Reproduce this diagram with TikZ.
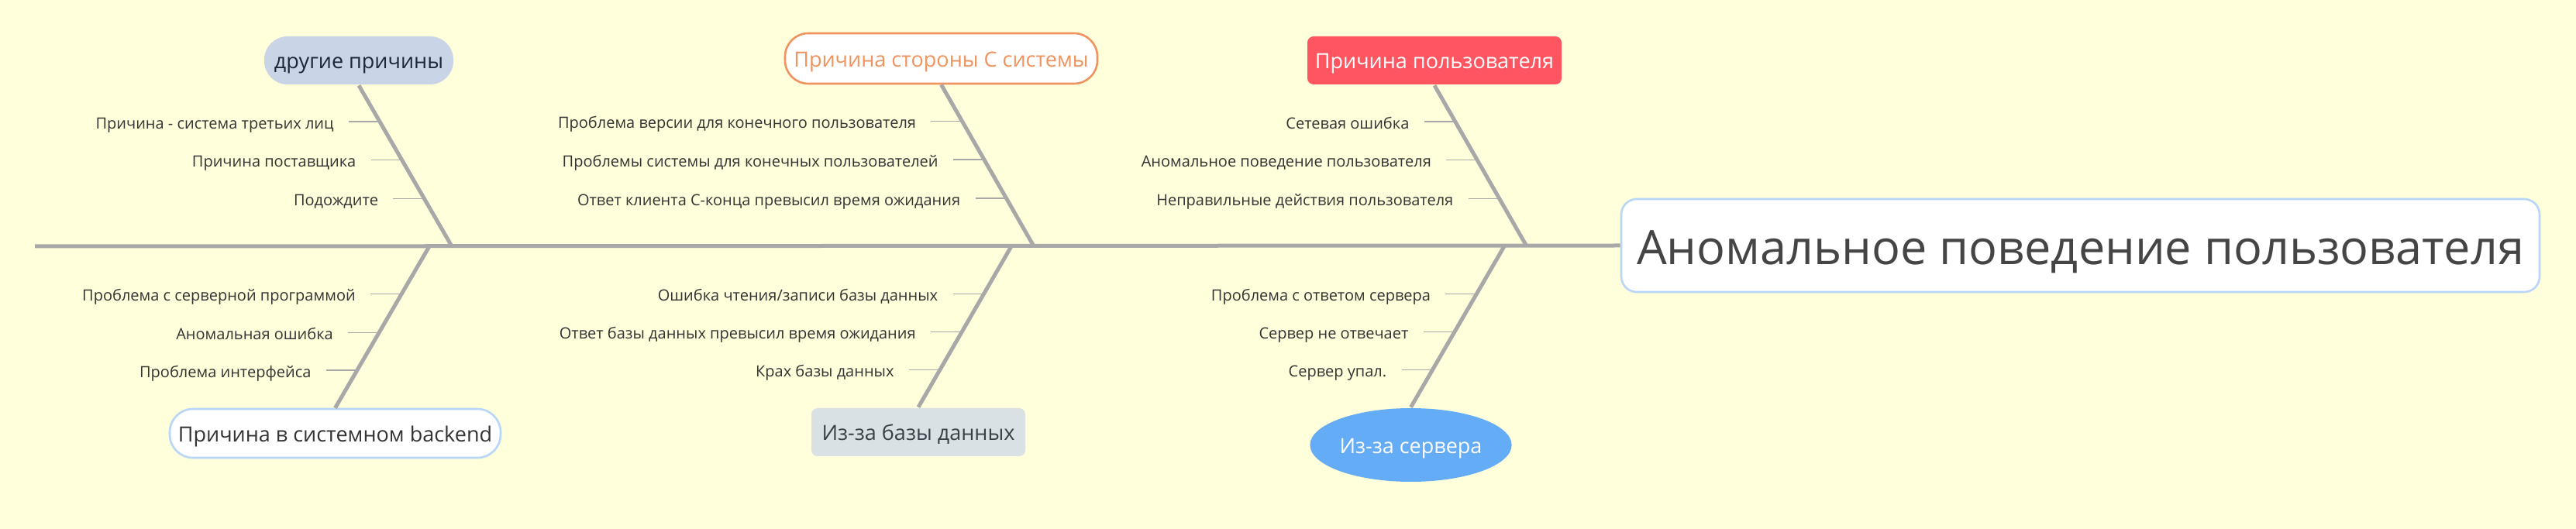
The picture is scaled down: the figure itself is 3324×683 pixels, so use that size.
\documentclass[tikz,border=0pt]{standalone}
\usepackage{fontspec}
\setmainfont{Open Sans}
\usetikzlibrary{positioning,calc,shapes.geometric}

\definecolor{bgyellow}{HTML}{FFFFDC}
\definecolor{bonegray}{HTML}{A8A8A8}
\definecolor{labelgray}{HTML}{333333}
\definecolor{maintext}{HTML}{454545}
\definecolor{edgeblue}{HTML}{B8D6F8}
\definecolor{othrfill}{HTML}{C9D4E7}
\definecolor{othrtext}{HTML}{1E2638}
\definecolor{sysorange}{HTML}{F0935E}
\definecolor{usrred}{HTML}{FF5560}
\definecolor{dbfill}{HTML}{D9E1E4}
\definecolor{dbtext}{HTML}{3A4048}
\definecolor{srvblue}{HTML}{64ACF6}

\tikzset{
  bone/.style={bonegray, line width=2.5pt},
  tick/.style={bonegray, line width=0.7pt, shorten <=9.5pt},
  lbl/.style={inner sep=0pt, text height=10pt, text depth=1pt, text=labelgray, font=\fontsize{10}{12}\selectfont},
  cause/.style={inner sep=0pt, text height=13.5pt, text depth=2.7pt, line width=1.3pt, font=\fontsize{13.5}{16}\selectfont},
}

\begin{document}
\begin{tikzpicture}[x=0.5pt,y=-0.5pt]
\useasboundingbox (0,0) rectangle (3324,683);
\fill[bgyellow] (0,0) rectangle (3324,683); %background

%the head and the spine
\node[draw=edgeblue, fill=white, rounded corners=10pt, line width=1.3pt, inner sep=0pt, text height=30.6pt, text depth=6.1pt, minimum width=592.5pt, minimum height=60pt, text=maintext, font=\fontsize{30.6}{36}\selectfont] (effect) at (2684.5,317) {Аномальное поведение пользователя};
\coordinate (tail) at (45,318);
\draw[bone] (tail) -- (effect.west); %spine

%the six causes
\node[cause, fill=othrfill, text=othrtext, rounded corners=15pt, minimum width=122pt, minimum height=31pt] (othr) at (463,78) {другие причины};
\node[cause, draw=sysorange, fill=white, text=sysorange, rounded corners=15pt, minimum width=201.5pt, minimum height=32.5pt] (sysc) at (1214.5,75.5) {Причина стороны С системы};
\node[cause, fill=usrred, text=white, rounded corners=4pt, minimum width=164pt, minimum height=31pt] (usr) at (1851,78) {Причина пользователя};
\node[cause, draw=edgeblue, fill=white, text=labelgray, rounded corners=15pt, minimum width=213.5pt, minimum height=31.5pt] (bknd) at (432.5,559.5) {Причина в системном backend};
\node[cause, fill=dbfill, text=dbtext, rounded corners=4pt, minimum width=138pt, minimum height=31pt] (dbase) at (1185,558) {Из-за базы данных};
\node[cause, ellipse, fill=srvblue, text=white, minimum width=123.5pt, minimum height=47.5pt] (srv) at (1820.5,574.5) {Из-за сервера};

%where the bones meet the spine
\coordinate (j1) at (583,318);
\coordinate (j2) at (1334,318);
\coordinate (j3) at (1970,318);
\coordinate (k1) at (554,318);
\coordinate (k2) at (1305,318);
\coordinate (k3) at (1941,318);

%the bones
\draw[bone] (othr.south) -- (j1);
\draw[bone] (sysc.south) -- (j2);
\draw[bone] (usr.south) -- (j3);
\draw[bone] (k1) -- (bknd.north);
\draw[bone] (k2) -- (dbase.north);
\draw[bone] (k3) -- (srv.north);

%ticks on the first upper bone
\coordinate (a1) at ($(othr.south)!0.225!(j1)$);
\coordinate (a2) at ($(othr.south)!0.464!(j1)$);
\coordinate (a3) at ($(othr.south)!0.703!(j1)$);
\node[lbl, left=29.5pt of a1] (la1) {Причина - система третьих лиц};
\node[lbl, left=29.5pt of a2] (la2) {Причина поставщика};
\node[lbl, left=29.5pt of a3] (la3) {Подождите};
\draw[tick] (la1) -- (a1);
\draw[tick] (la2) -- (a2);
\draw[tick] (la3) -- (a3);

%ticks on the second upper bone
\coordinate (b1) at ($(sysc.south)!0.225!(j2)$);
\coordinate (b2) at ($(sysc.south)!0.464!(j2)$);
\coordinate (b3) at ($(sysc.south)!0.703!(j2)$);
\node[lbl, left=29.5pt of b1] (lb1) {Проблема версии для конечного пользователя};
\node[lbl, left=29.5pt of b2] (lb2) {Проблемы системы для конечных пользователей};
\node[lbl, left=29.5pt of b3] (lb3) {Ответ клиента С-конца превысил время ожидания};
\draw[tick] (lb1) -- (b1);
\draw[tick] (lb2) -- (b2);
\draw[tick] (lb3) -- (b3);

%ticks on the third upper bone
\coordinate (c1) at ($(usr.south)!0.225!(j3)$);
\coordinate (c2) at ($(usr.south)!0.464!(j3)$);
\coordinate (c3) at ($(usr.south)!0.703!(j3)$);
\node[lbl, left=29.5pt of c1] (lc1) {Сетевая ошибка};
\node[lbl, left=29.5pt of c2] (lc2) {Аномальное поведение пользователя};
\node[lbl, left=29.5pt of c3] (lc3) {Неправильные действия пользователя};
\draw[tick] (lc1) -- (c1);
\draw[tick] (lc2) -- (c2);
\draw[tick] (lc3) -- (c3);

%ticks on the first lower bone
\coordinate (d1) at ($(k1)!0.295!(bknd.north)$);
\coordinate (d2) at ($(k1)!0.533!(bknd.north)$);
\coordinate (d3) at ($(k1)!0.767!(bknd.north)$);
\node[lbl, left=29.5pt of d1] (ld1) {Проблема с серверной программой};
\node[lbl, left=29.5pt of d2] (ld2) {Аномальная ошибка};
\node[lbl, left=29.5pt of d3] (ld3) {Проблема интерфейса};
\draw[tick] (ld1) -- (d1);
\draw[tick] (ld2) -- (d2);
\draw[tick] (ld3) -- (d3);

%ticks on the second lower bone
\coordinate (e1) at ($(k2)!0.295!(dbase.north)$);
\coordinate (e2) at ($(k2)!0.533!(dbase.north)$);
\coordinate (e3) at ($(k2)!0.767!(dbase.north)$);
\node[lbl, left=29.5pt of e1] (le1) {Ошибка чтения/записи базы данных};
\node[lbl, left=29.5pt of e2] (le2) {Ответ базы данных превысил время ожидания};
\node[lbl, left=29.5pt of e3] (le3) {Крах базы данных};
\draw[tick] (le1) -- (e1);
\draw[tick] (le2) -- (e2);
\draw[tick] (le3) -- (e3);

%ticks on the third lower bone
\coordinate (f1) at ($(k3)!0.295!(srv.north)$);
\coordinate (f2) at ($(k3)!0.533!(srv.north)$);
\coordinate (f3) at ($(k3)!0.767!(srv.north)$);
\node[lbl, left=29.5pt of f1] (lf1) {Проблема с ответом сервера};
\node[lbl, left=29.5pt of f2] (lf2) {Сервер не отвечает};
\node[lbl, left=29.5pt of f3] (lf3) {Сервер упал.};
\draw[tick] (lf1) -- (f1);
\draw[tick] (lf2) -- (f2);
\draw[tick] (lf3) -- (f3);
\end{tikzpicture}
\end{document}
